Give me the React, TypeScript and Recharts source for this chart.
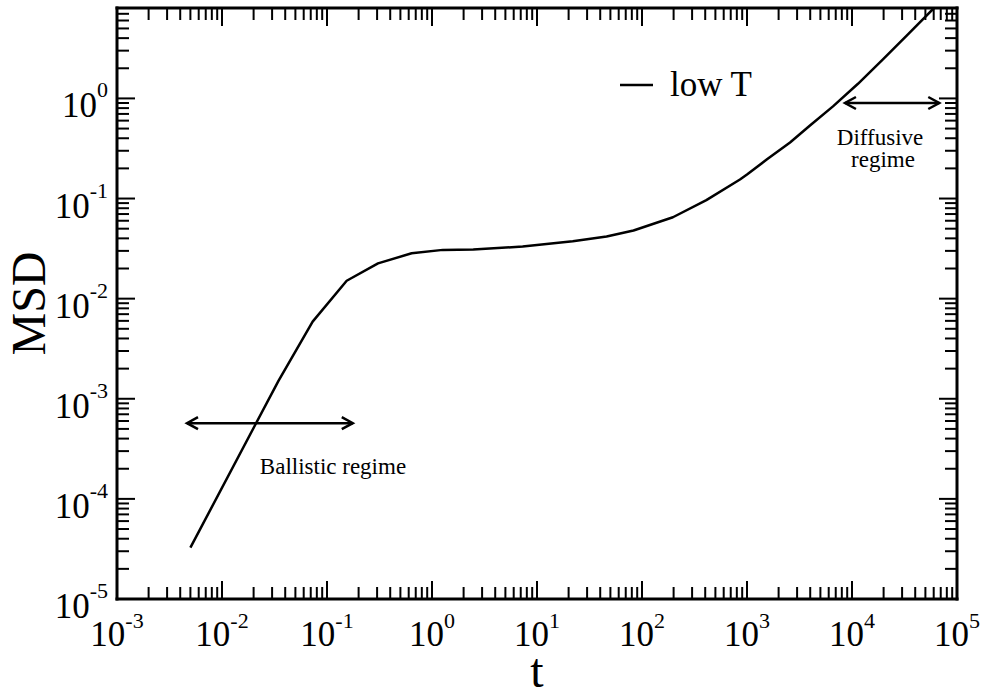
import React from 'react';
import { LineChart, Line, XAxis, YAxis, Legend, ReferenceLine, ReferenceDot } from 'recharts';

const FONT = '"Liberation Serif", "Times New Roman", Times, serif';

// mean squared displacement, low temperature run
const T_VALUES = [
  0.005, 0.0345, 0.073, 0.154, 0.306, 0.64, 1.27, 2.47, 7.3, 21.9,
  46, 83, 197, 410, 857, 1000, 1540, 2570, 3980, 6590, 11400, 19700, 34100, 60400,
];
const MSD_VALUES = [
  3.26e-5, 1.51e-3, 5.9e-3, 0.0151, 0.0225, 0.0284, 0.0307, 0.031, 0.0331, 0.0374,
  0.0417, 0.0479, 0.065, 0.0965, 0.155, 0.174, 0.245, 0.363, 0.537, 0.832, 1.4, 2.45, 4.37, 8,
];

// regime arrows: [t start, t end, msd]
const BALLISTIC_ARROW = [0.00464, 0.176, 5.71e-4];
const DIFFUSIVE_ARROW = [8570, 67800, 0.9];
const BALLISTIC_TEXT = { t: 0.114, msd: 1.78e-4 };
const DIFFUSIVE_TEXT = { t: 18500, msd: 0.339 };

const X_DOMAIN: [number, number] = [1e-3, 1e5];
const Y_DOMAIN: [number, number] = [1e-5, 8];
const X_DECADES = [-3, -2, -1, 0, 1, 2, 3, 4, 5];
const Y_DECADES = [-5, -4, -3, -2, -1, 0];
const MINOR_STEPS = [2, 3, 4, 5, 6, 7, 8, 9];

const data = T_VALUES.map((t, i) => ({ t, msd: MSD_VALUES[i] }));

function logTicks(decades: number[], [lo, hi]: [number, number]) {
  const out: number[] = [];
  decades.forEach((e) => {
    const base = Math.pow(10, e);
    out.push(base);
    MINOR_STEPS.forEach((m) => out.push(m * base));
  });
  return out.filter((v) => v >= lo * (1 - 1e-9) && v <= hi * (1 + 1e-9));
}

const xTicks = logTicks(X_DECADES, X_DOMAIN);
const yTicks = logTicks(Y_DECADES, Y_DOMAIN);

const isMajor = (v: number) => Math.abs(Math.log10(v) - Math.round(Math.log10(v))) < 1e-6;
const expOf = (v: number) => `${Math.round(Math.log10(v))}`;

const MAJOR_LEN = 18;
const MINOR_LEN = 12;

const BottomTick = ({ x, y, payload }: any) => {
  const v = payload.value;
  const major = isMajor(v);
  return (
    <g>
      <line x1={x} y1={y} x2={x} y2={y - (major ? MAJOR_LEN : MINOR_LEN)} stroke="#000" strokeWidth={2} />
      {major && (
        <text x={x} y={y + 47} textAnchor="middle" fontSize={35} fontFamily={FONT} fill="#000">
          <tspan>10</tspan>
          <tspan dy={-18} fontSize={22}>{expOf(v)}</tspan>
        </text>
      )}
    </g>
  );
};

const TopTick = ({ x, y, payload }: any) => {
  const len = isMajor(payload.value) ? MAJOR_LEN : MINOR_LEN;
  return <line x1={x} y1={y} x2={x} y2={y + len} stroke="#000" strokeWidth={2} />;
};

const LeftTick = ({ x, y, payload }: any) => {
  const v = payload.value;
  const major = isMajor(v);
  return (
    <g>
      <line x1={x} y1={y} x2={x + (major ? MAJOR_LEN : MINOR_LEN)} y2={y} stroke="#000" strokeWidth={2} />
      {major && (
        <text x={x - 9} y={y + 19} textAnchor="end" fontSize={35} fontFamily={FONT} fill="#000">
          <tspan>10</tspan>
          <tspan dy={-20} fontSize={22}>{expOf(v)}</tspan>
        </text>
      )}
    </g>
  );
};

const RightTick = ({ x, y, payload }: any) => {
  const len = isMajor(payload.value) ? MAJOR_LEN : MINOR_LEN;
  return <line x1={x} y1={y} x2={x - len} y2={y} stroke="#000" strokeWidth={2} />;
};

// double headed arrow drawn between the two segment ends
const DoubleArrow = ({ x1, y1, x2, y2 }: any) => {
  const h = 11;
  const w = 6;
  return (
    <g stroke="#000" strokeWidth={2.5} fill="none">
      <line x1={x1} y1={y1} x2={x2} y2={y2} />
      <polyline points={`${x1 + h},${y1 - w} ${x1},${y1} ${x1 + h},${y1 + w}`} />
      <polyline points={`${x2 - h},${y2 - w} ${x2},${y2} ${x2 - h},${y2 + w}`} />
    </g>
  );
};

const axisLine = { stroke: '#000', strokeWidth: 3, strokeLinecap: 'square' as const };

export default function App() {
  return (
    <div style={{ position: 'absolute', left: 0, top: 0, background: '#fff' }}>
      <LineChart width={981} height={691} data={data} margin={{ top: 0, right: 0, bottom: 0, left: 0 }}>
        <XAxis
          xAxisId="x"
          dataKey="t"
          type="number"
          scale="log"
          domain={X_DOMAIN}
          allowDataOverflow
          ticks={xTicks}
          interval={0}
          height={92}
          tickSize={0}
          tickMargin={0}
          tickLine={false}
          axisLine={axisLine}
          tick={<BottomTick />}
          label={({ viewBox }: any) => (
            <text
              x={viewBox.x + viewBox.width / 2}
              y={viewBox.y + 88}
              textAnchor="middle"
              fontSize={48}
              fontFamily={FONT}
              fill="#000"
            >
              t
            </text>
          )}
        />
        <XAxis
          xAxisId="top"
          orientation="top"
          dataKey="t"
          type="number"
          scale="log"
          domain={X_DOMAIN}
          allowDataOverflow
          ticks={xTicks}
          interval={0}
          height={8}
          tickSize={0}
          tickMargin={0}
          tickLine={false}
          axisLine={axisLine}
          tick={<TopTick />}
        />
        <YAxis
          yAxisId="y"
          type="number"
          scale="log"
          domain={Y_DOMAIN}
          allowDataOverflow
          ticks={yTicks}
          interval={0}
          width={117}
          tickSize={0}
          tickMargin={0}
          tickLine={false}
          axisLine={axisLine}
          tick={<LeftTick />}
          label={({ viewBox }: any) => {
            const cy = viewBox.y + viewBox.height / 2;
            return (
              <text
                x={45}
                y={cy}
                transform={`rotate(-90, 45, ${cy})`}
                textAnchor="middle"
                fontSize={48}
                fontFamily={FONT}
                fill="#000"
              >
                MSD
              </text>
            );
          }}
        />
        <YAxis
          yAxisId="right"
          orientation="right"
          type="number"
          scale="log"
          domain={Y_DOMAIN}
          allowDataOverflow
          ticks={yTicks}
          interval={0}
          width={24}
          tickSize={0}
          tickMargin={0}
          tickLine={false}
          axisLine={axisLine}
          tick={<RightTick />}
        />
        <Line
          xAxisId="x"
          yAxisId="y"
          name="low T"
          dataKey="msd"
          type="linear"
          stroke="#000"
          strokeWidth={2.5}
          strokeLinejoin="round"
          dot={false}
          activeDot={false}
          isAnimationActive={false}
        />
        <ReferenceLine
          xAxisId="x"
          yAxisId="y"
          segment={[
            { x: BALLISTIC_ARROW[0], y: BALLISTIC_ARROW[2] },
            { x: BALLISTIC_ARROW[1], y: BALLISTIC_ARROW[2] },
          ]}
          shape={(p: any) => <DoubleArrow {...p} />}
        />
        <ReferenceLine
          xAxisId="x"
          yAxisId="y"
          segment={[
            { x: DIFFUSIVE_ARROW[0], y: DIFFUSIVE_ARROW[2] },
            { x: DIFFUSIVE_ARROW[1], y: DIFFUSIVE_ARROW[2] },
          ]}
          shape={(p: any) => <DoubleArrow {...p} />}
        />
        <ReferenceDot
          xAxisId="x"
          yAxisId="y"
          x={BALLISTIC_TEXT.t}
          y={BALLISTIC_TEXT.msd}
          shape={({ cx, cy }: any) => (
            <text x={cx} y={cy} textAnchor="middle" fontSize={23} fontFamily={FONT} fill="#000">
              Ballistic regime
            </text>
          )}
        />
        <ReferenceDot
          xAxisId="x"
          yAxisId="y"
          x={DIFFUSIVE_TEXT.t}
          y={DIFFUSIVE_TEXT.msd}
          shape={({ cx, cy }: any) => (
            <text textAnchor="middle" fontSize={23} fontFamily={FONT} fill="#000">
              <tspan x={cx} y={cy}>Diffusive</tspan>
              <tspan x={cx + 3} y={cy + 22}>regime</tspan>
            </text>
          )}
        />
        <Legend
          layout="horizontal"
          verticalAlign="middle"
          align="center"
          wrapperStyle={{ left: 616, top: 58, width: 150, height: 50 }}
          content={({ payload }: any) => (
            <svg width={150} height={50}>
              <line x1={4} y1={27} x2={37} y2={27} stroke="#000" strokeWidth={2.5} />
              <text x={54} y={38} fontSize={35} fontFamily={FONT} fill="#000">
                {payload && payload[0] ? payload[0].value : 'low T'}
              </text>
            </svg>
          )}
        />
      </LineChart>
    </div>
  );
}
